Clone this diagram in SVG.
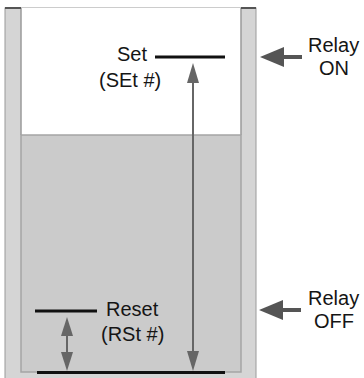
<svg xmlns="http://www.w3.org/2000/svg" width="364" height="378" viewBox="0 0 364 378">
<style>
text{font-family:"Liberation Sans",Arial,sans-serif;font-size:20px;fill:#151515}
.lvl{stroke:#111;stroke-width:3;fill:none}
.dim{stroke:#666;stroke-width:2;fill:none}
.head{fill:#666}
.relay{stroke:#555;stroke-width:4;fill:none}
.rhead{fill:#555}
</style>
<g id="tank">
<rect x="5" y="8" width="251" height="374" fill="#d5d5d5" stroke="#9a9a9a" stroke-width="1"/>
<rect x="21" y="8" width="220" height="127" fill="#fff" stroke="none"/>
<line x1="21" y1="8" x2="21" y2="135" stroke="#9a9a9a" stroke-width="1.5"/>
<line x1="241" y1="8" x2="241" y2="135" stroke="#9a9a9a" stroke-width="1.5"/>
<rect x="21" y="135" width="220" height="237" fill="#cbcbcb" stroke="#a5a5a5" stroke-width="1.5"/>
<line x1="5" y1="8" x2="21" y2="8" stroke="#555" stroke-width="2"/>
<line x1="241" y1="8" x2="256" y2="8" stroke="#555" stroke-width="2"/>
</g>
<g id="set">
<line class="lvl" x1="155" y1="57" x2="225" y2="57"/>
<text x="147" y="61" text-anchor="end">Set</text>
<text x="99" y="87">(SEt #)</text>
</g>
<g id="reset">
<line class="lvl" x1="35" y1="311" x2="97" y2="311"/>
<text x="106" y="316">Reset</text>
<text x="101" y="341">(RSt #)</text>
</g>
<g id="bottom">
<line class="lvl" x1="37" y1="372.5" x2="225" y2="372.5"/>
</g>
<g id="relay-on">
<text x="308" y="52">Relay</text>
<text x="334" y="74.5" text-anchor="middle">ON</text>
</g>
<g id="relay-off">
<text x="308" y="305">Relay</text>
<text x="334" y="327.5" text-anchor="middle">OFF</text>
</g>
<g id="connectors">
<line class="dim" x1="193" y1="82" x2="193" y2="352"/>
<polygon class="head" points="193,63 187,83 199,83"/>
<polygon class="head" points="193,371 187,351 199,351"/>
<line class="dim" x1="67" y1="335" x2="67" y2="353"/>
<polygon class="head" points="67,317 61,336 73,336"/>
<polygon class="head" points="67,371 61,352 73,352"/>
<line class="relay" x1="282" y1="57" x2="302" y2="57"/>
<polygon class="rhead" points="260,57 284,47 284,67"/>
<line class="relay" x1="281" y1="310" x2="301" y2="310"/>
<polygon class="rhead" points="259,310 283,300 283,320"/>
</g>
</svg>
